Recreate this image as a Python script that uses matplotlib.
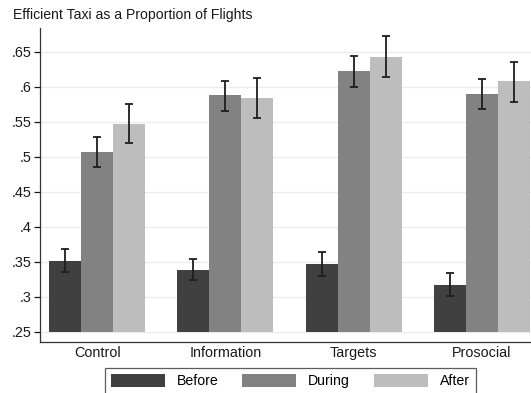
import numpy as np
import matplotlib
matplotlib.use("Agg")
import matplotlib.pyplot as plt
from matplotlib.patches import Patch
from matplotlib.ticker import FuncFormatter

plt.rcParams['font.family'] = ['Liberation Sans', 'DejaVu Sans']

groups = ["Control", "Information", "Targets", "Prosocial"]
periods = ["Before", "During", "After"]

before = [0.352, 0.339, 0.347, 0.317]
during = [0.507, 0.588, 0.622, 0.590]
after = [0.547, 0.584, 0.643, 0.608]

before_lo = [0.335, 0.324, 0.330, 0.302]
before_hi = [0.368, 0.354, 0.364, 0.334]
during_lo = [0.485, 0.566, 0.600, 0.569]
during_hi = [0.529, 0.609, 0.644, 0.611]
after_lo = [0.520, 0.556, 0.614, 0.579]
after_hi = [0.575, 0.612, 0.672, 0.635]

yticks = [0.25, 0.3, 0.35, 0.4, 0.45, 0.5, 0.55, 0.6, 0.65]

colors = ["#404040", "#828282", "#bdbdbd"]

fig = plt.figure(figsize=(5.31, 3.93), dpi=100)
ax = fig.add_axes([40 / 531, 1 - 342 / 393, 491 / 531, (342 - 28) / 393])

x = np.arange(len(groups))
width = 0.25
base = 0.25
series = [(before, before_lo, before_hi), (during, during_lo, during_hi), (after, after_lo, after_hi)]
for i, (vals, lo, hi) in enumerate(series):
    pos = x + (i - 1) * width
    vals = np.array(vals)
    ax.bar(pos, vals - base, width, bottom=base, color=colors[i], zorder=2)
    lo = np.array(lo)
    hi = np.array(hi)
    ax.errorbar(pos, vals, yerr=[vals - lo, hi - vals], fmt='none', ecolor="#1e1e1e",
                elinewidth=1.3, capsize=2.8, capthick=1.3, zorder=3)

ax.set_xlim(-0.445, 3.383)
ax.set_ylim(0.2357, 0.684)
ax.set_yticks(yticks)
ax.yaxis.set_major_formatter(FuncFormatter(lambda v, p: ("%.2f" % v).rstrip('0').lstrip('0')))
ax.set_xticks(x)
ax.set_xticklabels(groups)
ax.tick_params(axis='x', length=0, pad=3, labelsize=10.4, colors="#1a1a1a")
ax.tick_params(axis='y', length=4, width=0.9, pad=2, labelsize=10.4, colors="#1a1a1a")
ax.grid(axis='y', color="#ececec", linewidth=1.0, zorder=0)
ax.set_axisbelow(True)
for s in ["top", "right"]:
    ax.spines[s].set_visible(False)
for s in ["left", "bottom"]:
    ax.spines[s].set_color("#333333")
    ax.spines[s].set_linewidth(0.9)

fig.text(13 / 531, 1 - 15 / 393, "Efficient Taxi as a Proportion of Flights",
         fontsize=10.1, va='center', ha='left', color="#1a1a1a")

handles = [Patch(facecolor=c, edgecolor='none') for c in colors]
leg = fig.legend(handles, periods, loc='upper left', bbox_to_anchor=(105 / 531, 1 - 368 / 393),
                 ncol=3, frameon=True, fancybox=False, fontsize=10.2, handlelength=3.8,
                 handleheight=1.1, handletextpad=0.85, columnspacing=1.7, borderpad=0.4,
                 borderaxespad=0)
leg.get_frame().set_edgecolor("#333333")
leg.get_frame().set_linewidth(0.9)

fig.savefig("out.png", dpi=100, facecolor="white")
